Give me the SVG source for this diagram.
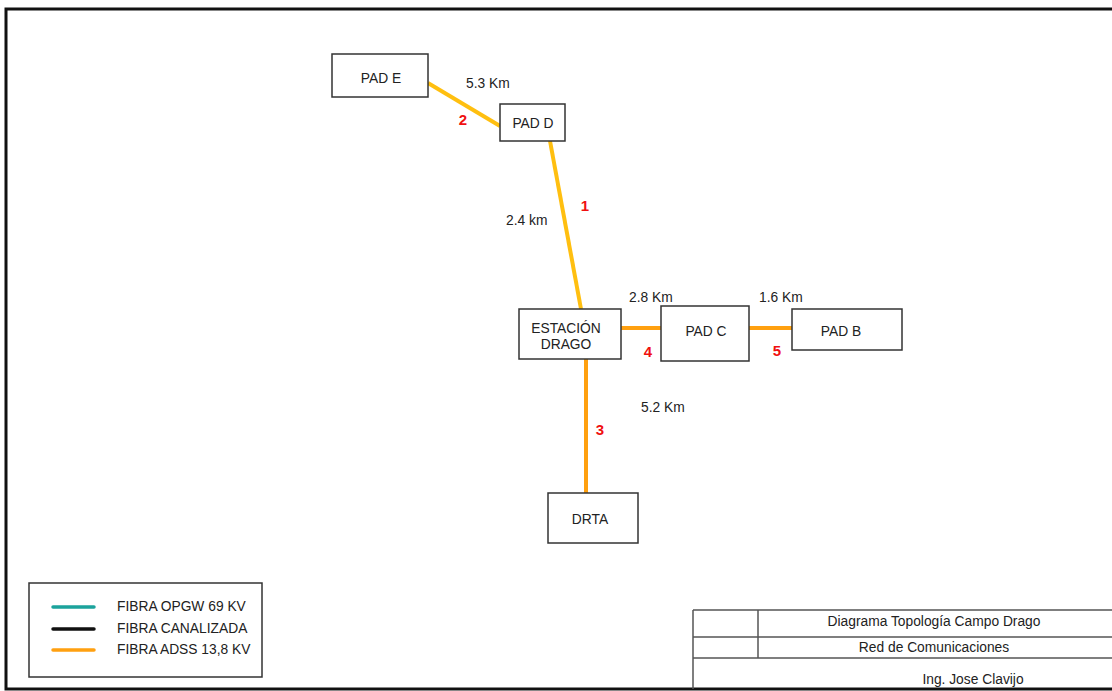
<svg xmlns="http://www.w3.org/2000/svg" width="1112" height="691" viewBox="0 0 1112 691">
<style>
text{font-family:"Liberation Sans",Arial,sans-serif;font-size:13.8px;fill:#222}
.node{fill:#fff;stroke:#333;stroke-width:1.5}
.lbl{text-anchor:middle}
.num{fill:#f01010;font-weight:bold;font-size:15px;text-anchor:middle}
.tb{fill:none;stroke:#555;stroke-width:1.5}
.fy{stroke:#FFBF10;stroke-width:4;fill:none}
.fo{stroke:#FFA010;stroke-width:4;fill:none}
</style>
<rect x="0" y="0" width="1112" height="691" fill="#fff"/>
<rect x="6" y="9" width="1120" height="680" fill="none" stroke="#111" stroke-width="3"/>
<g id="connectors">
<line class="fy" x1="428" y1="83" x2="500" y2="126"/>
<line class="fy" x1="550" y1="141" x2="581" y2="309"/>
<line class="fo" x1="621" y1="328" x2="661" y2="328"/>
<line class="fo" x1="749" y1="328" x2="792" y2="328"/>
<line class="fo" x1="586" y1="359" x2="586" y2="493"/>
<text x="466" y="88">5.3 Km</text>
<text class="num" x="463" y="125">2</text>
<text class="num" x="585" y="211">1</text>
<text x="506" y="225">2.4 km</text>
<text x="629" y="302">2.8 Km</text>
<text x="759" y="302">1.6 Km</text>
<text class="num" x="648" y="357">4</text>
<text class="num" x="777" y="356">5</text>
<text class="num" x="600" y="435">3</text>
<text x="641" y="412">5.2 Km</text>
</g>
<g id="pad-e"><rect class="node" x="332" y="54" width="96" height="43"/><text class="lbl" x="381" y="83">PAD E</text></g>
<g id="pad-d"><rect class="node" x="500" y="104" width="65" height="37"/><text class="lbl" x="533" y="128">PAD D</text></g>
<g id="estacion-drago"><rect class="node" x="519" y="309" width="102" height="50"/><text class="lbl" x="566" y="333">ESTACIÓN</text><text class="lbl" x="566" y="349">DRAGO</text></g>
<g id="pad-c"><rect class="node" x="661" y="306" width="88" height="55"/><text class="lbl" x="706" y="336">PAD C</text></g>
<g id="pad-b"><rect class="node" x="792" y="309" width="110" height="41"/><text class="lbl" x="841" y="336">PAD B</text></g>
<g id="drta"><rect class="node" x="548" y="493" width="90" height="50"/><text class="lbl" x="590" y="524">DRTA</text></g>
<g id="legend">
<rect x="29" y="583" width="233" height="94" fill="#fff" stroke="#333" stroke-width="1.5"/>
<line x1="53" y1="607" x2="94" y2="607" stroke="#1BA39C" stroke-width="3.5" stroke-linecap="round"/>
<line x1="53" y1="629" x2="94" y2="629" stroke="#111" stroke-width="3.5" stroke-linecap="round"/>
<line x1="53" y1="650" x2="94" y2="650" stroke="#FFA010" stroke-width="3.5" stroke-linecap="round"/>
<text x="117" y="611">FIBRA OPGW 69 KV</text>
<text x="117" y="633">FIBRA CANALIZADA</text>
<text x="117" y="654">FIBRA ADSS 13,8 KV</text>
</g>
<g id="title-block">
<line class="tb" x1="693" y1="610" x2="1112" y2="610"/>
<line class="tb" x1="693" y1="637" x2="1112" y2="637"/>
<line class="tb" x1="693" y1="658" x2="1112" y2="658"/>
<line class="tb" x1="693" y1="610" x2="693" y2="689"/>
<line class="tb" x1="758" y1="610" x2="758" y2="658"/>
<text class="lbl" x="934" y="626">Diagrama Topología Campo Drago</text>
<text class="lbl" x="934" y="652">Red de Comunicaciones</text>
<text class="lbl" x="973" y="684">Ing. Jose Clavijo</text>
</g>
</svg>
